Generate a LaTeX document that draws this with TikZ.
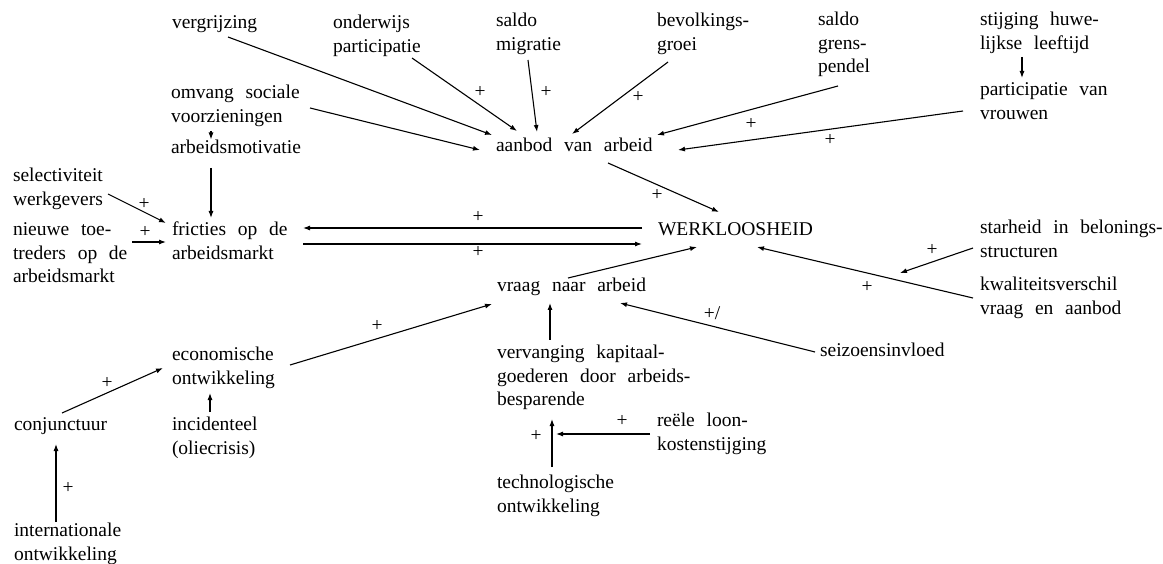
\documentclass[tikz,border=0pt]{standalone}
\usepackage{fontspec}
\setmainfont{Liberation Serif}
\usetikzlibrary{arrows.meta}
\newcommand\txtfont{\fontsize{19.5}{23.5}\selectfont\spaceskip=0.6em plus 0.2em\relax}
\newcommand\plfont{\fontsize{19.5}{22}\selectfont}
\begin{document}
\begin{tikzpicture}[x=1pt,y=-1pt,
  txt/.style={font=\txtfont, align=left, anchor=north west, inner sep=0pt, outer sep=0pt},
  pl/.style={font=\plfont, inner sep=0pt},
  arr/.style={line width=1.1pt, -{Latex[length=7pt,width=5pt]}}]
\useasboundingbox (0,0) rectangle (1163,564);
% nodes
\node[txt] (vergr)  at (172,12.5)  {\strut vergrijzing};
\node[txt] (onderw) at (333,12.5)  {\strut onderwijs\\participatie};
\node[txt] (saldom) at (496,10.5)  {\strut saldo\\migratie};
\node[txt] (bevolk) at (657,10.5)  {\strut bevolkings-\\groei};
\node[txt] (saldog) at (818,9.5)   {\strut saldo\\grens-\\pendel};
\node[txt] (stijg)  at (980,9.5)   {\strut stijging huwe-\\lijkse leeftijd};
\node[txt] (partv)  at (980,79.5)  {\strut participatie van\\vrouwen};
\node[txt] (omvang) at (171,82.5)  {\strut omvang sociale\\voorzieningen};
\node[txt] (motiv)  at (171,137.5) {\strut arbeidsmotivatie};
\node[txt] (aanbod) at (496,135.5) {\strut aanbod van arbeid};
\node[txt] (werkl)  at (658,219.5) {\strut WERKLOOSHEID};
\node[txt] (select) at (13,165.5)  {\strut selectiviteit\\werkgevers};
\node[txt] (nieuwe) at (13,219.5)  {\strut nieuwe toe-\\treders op de\\arbeidsmarkt};
\node[txt] (frict)  at (172,219.5) {\strut fricties op de\\arbeidsmarkt};
\node[txt] (vraag)  at (497,275.5) {\strut vraag naar arbeid};
\node[txt] (starh)  at (980,217.5) {\strut starheid in belonings-\\structuren};
\node[txt] (kwal)   at (980,274.5) {\strut kwaliteitsverschil\\vraag en aanbod};
\node[txt] (seiz)   at (820,340.5) {\strut seizoensinvloed};
\node[txt] (econ)   at (172,344.5) {\strut economische\\ontwikkeling};
\node[txt] (conj)   at (14,414.5)  {\strut conjunctuur};
\node[txt] (incid)  at (172,414.5) {\strut incidenteel\\(oliecrisis)};
\node[txt] (intern) at (14,520.5)  {\strut internationale\\ontwikkeling};
\node[txt] (verv)   at (497,342.5) {\strut vervanging kapitaal-\\goederen door arbeids-\\besparende};
\node[txt] (reele)  at (657,410.5) {\strut reële loon-\\kostenstijging};
\node[txt] (techn)  at (497,472.5) {\strut technologische\\ontwikkeling};
% free ends
\coordinate (sk) at (900,273);
\coordinate (rk) at (556,434);
% connectors
\draw[arr] ([shift={(56,24.5)}]vergr.north west) -- ([shift={(-4,-0.5)}]aanbod.north west);
\draw[arr] ([shift={(79,45.5)}]onderw.north west) -- ([shift={(21,-4.5)}]aanbod.north west);
\draw[arr] ([shift={(32,49.5)}]saldom.north west) -- ([shift={(41,-3.5)}]aanbod.north west);
\draw[arr] ([shift={(11,51.5)}]bevolk.north west) -- ([shift={(76,-1.5)}]aanbod.north west);
\draw[arr] ([shift={(20,76.5)}]saldog.north west) -- ([shift={(161,-0.5)}]aanbod.north west);
\draw[arr] ([shift={(-17,31.5)}]partv.north west) -- ([shift={(182,14.5)}]aanbod.north west);
\draw[arr] ([shift={(42,47.5)}]stijg.north west) -- ([shift={(42,-1.5)}]partv.north west);
\draw[arr] ([shift={(139,25.5)}]omvang.north west) -- ([shift={(-16,14.5)}]aanbod.north west);
\draw[arr] ([shift={(40,48.5)}]omvang.north west) -- ([shift={(40,2)}]motiv.north west);
\draw[arr] ([shift={(40,30.5)}]motiv.north west) -- ([shift={(39,-1.5)}]frict.north west);
\draw[arr] ([shift={(95,28.5)}]select.north west) -- ([shift={(-6,3.5)}]frict.north west);
\draw[arr] ([shift={(119,22.5)}]nieuwe.north west) -- ([shift={(-6,22.5)}]frict.north west);
\draw[arr] ([shift={(-16,8.5)}]werkl.north west) -- ([shift={(131,8.5)}]frict.north west);
\draw[arr] ([shift={(131,24.5)}]frict.north west) -- ([shift={(-16,24.5)}]werkl.north west);
\draw[arr] ([shift={(112,27.5)}]aanbod.north west) -- ([shift={(61,-7.5)}]werkl.north west);
\draw[arr] ([shift={(71,2.5)}]vraag.north west) -- ([shift={(39,27.5)}]werkl.north west);
\draw[arr] ([shift={(-7,23.5)}]kwal.north west) -- ([shift={(99,27.5)}]werkl.north west);
\draw[arr] ([shift={(-7,30.5)}]starh.north west) -- (sk);
\draw[arr] ([shift={(-5,11.5)}]seiz.north west) -- ([shift={(123,27.5)}]vraag.north west);
\draw[arr] ([shift={(118,20.5)}]econ.north west) -- ([shift={(-5,28.5)}]vraag.north west);
\draw[arr] ([shift={(53,-2.5)}]verv.north west) -- ([shift={(53,27.5)}]vraag.north west);
\draw[arr] ([shift={(48,-1.5)}]conj.north west) -- ([shift={(-9,23.5)}]econ.north west);
\draw[arr] ([shift={(38,-2.5)}]incid.north west) -- ([shift={(38,48.5)}]econ.north west);
\draw[arr] ([shift={(42,1.5)}]intern.north west) -- ([shift={(42,29.5)}]conj.north west);
\draw[arr] ([shift={(55,-5.5)}]techn.north west) -- ([shift={(55,76.5)}]verv.north west);
\draw[arr] ([shift={(-7,23.5)}]reele.north west) -- (rk);
% signs
\node[pl] (p1)  at (480,92)  {+};
\node[pl] (p2)  at (546,92)  {+};
\node[pl] (p3)  at (638,97)  {+};
\node[pl] (p4)  at (751,124) {+};
\node[pl] (p5)  at (830,140) {+};
\node[pl] (p6)  at (657,195) {+};
\node[pl] (p7)  at (144,204) {+};
\node[pl] (p8)  at (145,232) {+};
\node[pl] (p9)  at (478,217) {+};
\node[pl] (p10) at (478,252) {+};
\node[pl] (p11) at (932,250) {+};
\node[pl] (p12) at (867,287) {+};
\node[pl] (p13) at (712,313) {+/};
\node[pl] (p14) at (377,326) {+};
\node[pl] (p15) at (107,383) {+};
\node[pl] (p16) at (68,488)  {+};
\node[pl] (p17) at (536,436) {+};
\node[pl] (p18) at (622,421) {+};
\end{tikzpicture}
\end{document}
